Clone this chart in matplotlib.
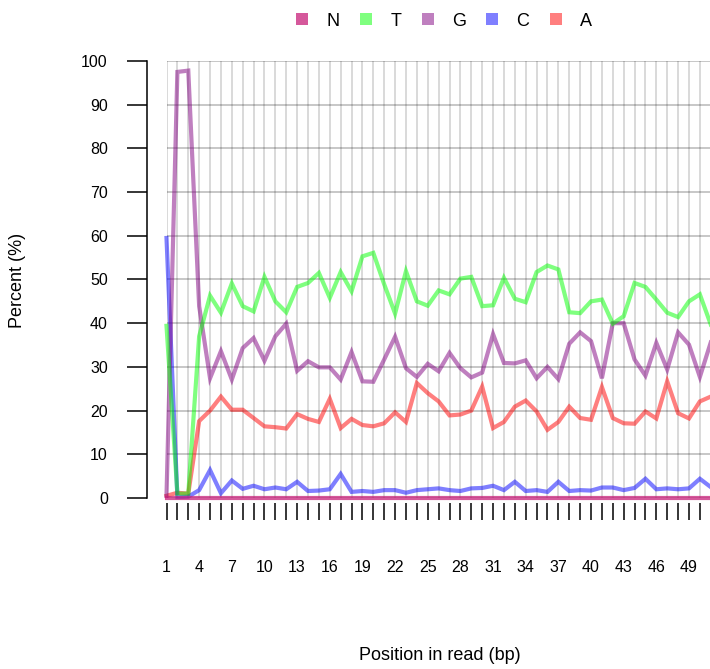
import matplotlib
matplotlib.use('Agg')
import matplotlib.pyplot as plt
from matplotlib.lines import Line2D

# per-base composition by position in read (percent)
positions = list(range(1, 52))

pct_A = [0.5, 1.2, 1.0, 17.6, 20.0, 23.2, 20.2, 20.2, 18.3, 16.4,
         16.2, 15.9, 19.2, 18.1, 17.4, 22.7, 16.0, 18.1, 16.7, 16.4,
         17.1, 19.6, 17.4, 26.3, 24.0, 22.1, 18.9, 19.1, 20.0, 25.5,
         16.0, 17.4, 20.9, 22.3, 19.8, 15.6, 17.4, 20.9, 18.3, 17.9,
         25.4, 18.3, 17.1, 17.0, 19.8, 18.2, 26.7, 19.4, 18.2, 22.1,
         23.2]
pct_C = [59.5, 0.2, 0.3, 1.8, 6.4, 1.1, 4.0, 2.1, 2.8, 2.0,
         2.4, 2.0, 3.7, 1.6, 1.7, 2.0, 5.5, 1.4, 1.6, 1.4,
         1.8, 1.8, 1.2, 1.8, 2.0, 2.2, 1.8, 1.6, 2.2, 2.3,
         2.8, 1.8, 3.7, 1.6, 1.8, 1.4, 3.7, 1.6, 1.8, 1.7,
         2.4, 2.4, 1.8, 2.3, 4.4, 2.0, 2.2, 2.0, 2.2, 4.4,
         2.5]
pct_G = [0.5, 97.5, 97.8, 43.9, 27.4, 33.6, 27.1, 34.3, 36.6, 31.4,
         37.0, 39.9, 29.1, 31.3, 29.9, 29.9, 27.1, 33.4, 26.7, 26.6,
         31.7, 36.9, 29.7, 27.7, 30.7, 29.0, 33.2, 29.7, 27.6, 28.7,
         37.5, 30.9, 30.8, 31.5, 27.4, 30.0, 27.2, 35.3, 37.9, 35.9,
         27.4, 40.0, 40.0, 31.7, 28.0, 35.5, 29.4, 37.9, 35.1, 27.7,
         35.6]
pct_T = [39.4, 1.0, 1.0, 37.0, 46.3, 42.4, 49.1, 43.9, 42.7, 50.6,
         45.0, 42.5, 48.3, 49.2, 51.5, 45.8, 51.7, 47.3, 55.3, 56.1,
         48.9, 42.2, 51.9, 45.0, 44.0, 47.5, 46.6, 50.2, 50.6, 43.9,
         44.1, 50.4, 45.6, 44.8, 51.7, 53.2, 52.3, 42.5, 42.3, 45.0,
         45.4, 39.9, 41.6, 49.2, 48.3, 45.4, 42.4, 41.4, 45.0, 46.6,
         39.7]
pct_N = [0.0] * 51

bases = ['A', 'C', 'G', 'T', 'N']
series = [pct_A, pct_C, pct_G, pct_T, pct_N]
colors = {'A': '#ff0000', 'C': '#0000ff', 'G': '#800080', 'T': '#00ff00', 'N': '#c8207a'}
alphas = {'A': 0.5, 'C': 0.5, 'G': 0.5, 'T': 0.5, 'N': 0.75}

xtick_labels = [str(p) if (p - 1) % 3 == 0 else '' for p in positions]

plt.rcParams['font.family'] = ['Liberation Sans', 'DejaVu Sans']

fig = plt.figure(figsize=(7.1, 6.69), dpi=100)
W, H = 710.0, 669.0
ax = fig.add_axes([166.5 / W, (H - 498) / H, (W - 166.5) / W, (498 - 61) / H])

# grid
for p in positions:
    ax.axvline(p, color='black', alpha=0.15, lw=1.4, zorder=1)
for yv in range(0, 101, 10):
    ax.axhline(yv, color='black', alpha=0.22, lw=1.4, zorder=1)

for b, vals in zip(bases, series):
    ax.plot(positions, vals, color=colors[b], alpha=alphas[b], lw=3.0,
            solid_joinstyle='miter', zorder=3, clip_on=False)

ax.set_xlim(1, 1 + (W - 166.5) / 10.885)
ax.set_ylim(0, 100)

for s in ['top', 'right']:
    ax.spines[s].set_visible(False)
ax.spines['bottom'].set_visible(False)
ax.spines['bottom'].set_position(('outward', 3.6))
ax.spines['left'].set_position(('outward', 14.4))
ax.spines['left'].set_linewidth(1.1)

ax.set_yticks(range(0, 101, 10))
ax.set_xticks(positions[:50])
ax.set_xticklabels(xtick_labels[:50])
ax.tick_params(axis='y', length=14.4, width=1.1, pad=13.5, labelsize=11.5)
ax.tick_params(axis='x', length=12.2, width=1.1, pad=29, labelsize=11.5)

fig.text(18 / W, 1 - 280 / H, 'Percent (%)', rotation=90, ha='center', va='center', fontsize=13)
fig.text(440 / W, 1 - 656 / H, 'Position in read (bp)', ha='center', va='center', fontsize=13)

handles = [Line2D([], [], ls='none', marker='s', markersize=8.5, markeredgewidth=0,
                  color=colors[b], alpha=alphas[b]) for b in bases[::-1]]
fig.legend(handles, bases[::-1], loc='center', bbox_to_anchor=(444 / W, 1 - 21 / H),
           ncol=5, frameon=False, fontsize=13, handlelength=0.7, handletextpad=1.0,
           columnspacing=1.1)

fig.savefig('out.png', dpi=100)
